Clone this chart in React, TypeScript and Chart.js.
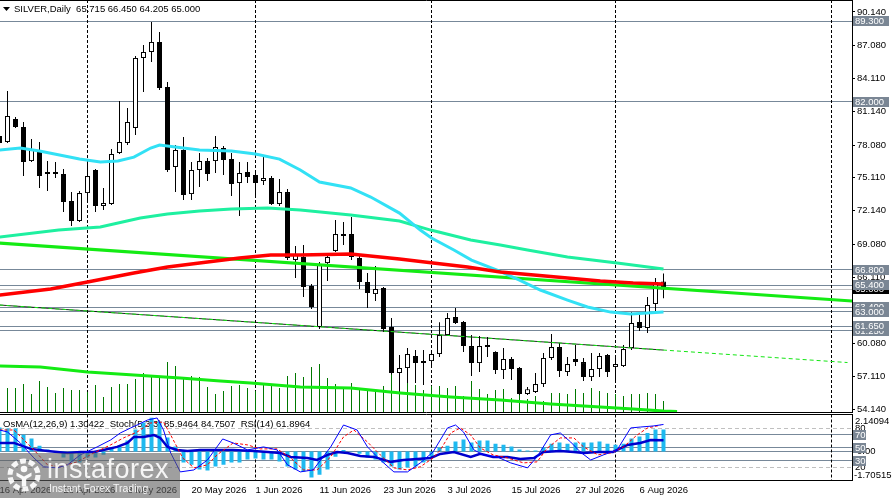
import React, { useEffect, useRef } from 'react';
import { Chart, registerables } from 'chart.js';

Chart.register(...registerables);

const FONT = "'Liberation Sans', Arial, Helvetica, sans-serif";

// ---------------- data ----------------
const symbolTitle = 'SILVER,Daily';
const lastOHLC = ['65.715', '66.450', '64.205', '65.000'];

const barOpen = [78.90, 78.36, 80.44, 79.72, 76.63, 77.45, 75.46, 75.64, 75.46, 73.01,
  71.20, 73.73, 75.82, 72.56, 72.74, 77.36, 78.27, 79.63, 85.97, 86.51,
  87.42, 83.34, 76.09, 77.63, 73.64, 75.82, 76.63, 76.63, 77.81, 76.82,
  74.64, 75.64, 75.37, 74.82, 75.09, 72.74, 73.82, 67.67, 67.94, 65.31,
  61.60, 67.39, 68.49, 70.02, 70.02, 67.85, 65.67, 64.58, 65.13, 61.60,
  57.43, 57.88, 58.97, 58.33, 58.51, 59.15, 60.87, 62.50, 62.05, 59.87,
  58.33, 59.96, 59.33, 57.70, 58.70, 57.88, 55.52, 55.71, 56.43, 58.79,
  59.78, 57.52, 58.70, 58.42, 57.06, 57.79, 59.06, 57.97, 58.06, 59.69,
  62.05, 61.51, 63.68, 65.715];
const barHigh = [79.44, 82.98, 80.62, 80.17, 78.63, 78.36, 76.63, 76.54, 75.91, 73.82,
  73.92, 76.54, 75.91, 74.19, 77.72, 82.07, 81.44, 86.15, 87.14, 89.23,
  88.32, 83.79, 78.09, 78.81, 76.54, 77.36, 76.90, 78.90, 77.99, 77.36,
  76.54, 76.54, 75.82, 76.99, 75.27, 75.00, 74.10, 68.93, 69.02, 65.49,
  67.49, 68.30, 71.29, 71.11, 71.56, 68.12, 66.49, 67.12, 65.22, 62.41,
  59.06, 59.69, 59.51, 59.51, 59.51, 62.04, 62.86, 63.32, 62.14, 60.87,
  60.78, 60.69, 59.40, 59.69, 58.88, 57.97, 56.16, 57.43, 59.24, 60.96,
  60.14, 58.88, 59.96, 58.79, 59.24, 59.24, 59.15, 58.79, 59.96, 62.95,
  62.86, 64.31, 66.03, 66.45];
const barLow = [77.99, 78.27, 79.63, 75.27, 76.55, 74.19, 73.92, 75.09, 72.01, 70.74,
  71.10, 72.92, 72.01, 72.20, 72.65, 77.27, 78.09, 79.00, 82.89, 85.60,
  83.07, 75.64, 73.82, 73.10, 73.10, 74.28, 74.82, 75.55, 75.37, 73.46,
  71.65, 74.64, 73.37, 74.46, 72.65, 72.56, 67.67, 66.03, 64.31, 63.23,
  61.42, 65.76, 68.40, 69.02, 67.67, 65.04, 63.32, 63.95, 61.14, 57.30,
  55.62, 56.52, 56.52, 56.34, 58.15, 58.88, 60.78, 61.87, 59.33, 57.16,
  57.52, 58.88, 57.34, 56.88, 56.79, 55.43, 55.43, 55.61, 56.16, 58.60,
  57.06, 57.16, 58.06, 56.70, 56.70, 57.06, 57.06, 56.79, 57.97, 59.51,
  61.23, 61.05, 62.86, 64.205];
const barClose = [78.27, 80.71, 79.72, 76.54, 77.63, 75.27, 75.64, 75.46, 72.92, 71.20,
  73.73, 75.27, 72.56, 72.83, 77.27, 78.36, 80.17, 85.97, 86.51, 87.42,
  83.25, 75.82, 77.63, 73.55, 75.82, 76.63, 75.46, 77.90, 76.72, 74.55,
  75.55, 75.18, 74.64, 75.09, 72.74, 73.82, 67.85, 68.12, 65.22, 63.41,
  67.21, 67.94, 70.02, 69.84, 67.94, 65.67, 64.67, 65.04, 61.41, 57.43,
  57.88, 59.15, 58.33, 58.51, 59.15, 60.87, 62.41, 61.96, 59.87, 58.33,
  59.87, 59.78, 57.70, 58.70, 57.79, 55.52, 55.97, 56.43, 58.79, 59.78,
  57.61, 58.24, 58.42, 57.06, 57.79, 58.97, 57.52, 58.24, 59.60, 61.96,
  61.51, 63.59, 65.67, 65.00];

const volumes = [22, 24, 24, 28, 18, 31, 25, 19, 24, 22,
  22, 20, 27, 15, 25, 28, 28, 33, 39, 35,
  35, 50, 46, 33, 36, 35, 25, 18, 21, 26,
  27, 24, 21, 29, 28, 24, 36, 39, 35, 45,
  48, 34, 28, 24, 29, 24, 23, 21, 26, 38,
  34, 30, 27, 22, 26, 26, 24, 26, 16, 31,
  23, 18, 22, 23, 14, 18, 13, 16, 11, 19,
  19, 18, 23, 19, 24, 21, 19, 18, 16, 18,
  18, 19, 18, 11];

// moving averages (bar position, value)
const maCyanX = [0, 2.6, 5, 10, 12.6, 14.8, 16.8, 18.9, 20, 25, 29, 32, 35, 37.6, 40, 43.9, 46.4, 50, 52.6, 54, 56.8, 59, 62.2, 65, 67.6, 71, 73.5, 76.4, 78.9, 83];
const maCyanV = [77.63, 77.81, 77.54, 76.81, 76.54, 76.63, 76.99, 77.81, 78.08, 77.63, 77.54, 77.27, 76.81, 75.82, 74.73, 74.19, 73.37, 71.92, 70.38, 69.66, 68.57, 67.66, 66.76, 65.85, 64.95, 64.04, 63.41, 62.95, 62.77, 62.95];
const maSeaX = [0, 7.4, 12.6, 17.6, 21, 25, 29, 33.5, 37.6, 43.9, 50, 53.9, 58.9, 62.6, 66, 71, 77.2, 83];
const maSeaV = [69.75, 70.38, 70.65, 71.47, 71.83, 72.10, 72.29, 72.38, 72.19, 71.74, 71.20, 70.38, 69.48, 69.02, 68.57, 67.94, 67.39, 66.85];
const maRedX = [0, 6.4, 11, 16.8, 21, 25, 30, 33.9, 37.6, 43.9, 50, 54.2, 58.5, 62.6, 66.8, 71, 75.1, 79.2, 83];
const maRedV = [64.49, 65.04, 65.67, 66.49, 67.03, 67.39, 67.85, 68.12, 68.12, 68.21, 67.76, 67.39, 67.03, 66.58, 66.31, 66.03, 65.76, 65.58, 65.49];
const maLimeX = [0, 5.1, 11, 16.8, 22.6, 27.6, 31.4, 37.6, 43.9, 50.1, 56.4, 62.6, 68.9, 75.1, 79.2, 83, 84.7];
const maLimeV = [58.06, 57.97, 57.52, 57.25, 56.97, 56.70, 56.52, 56.16, 56.07, 55.62, 55.25, 54.98, 54.62, 54.35, 54.17, 53.98, 53.95];

// trend lines
const trendUpperX = [0, 106.6];
const trendUpperV = [69.20, 63.95];
const trendLowerX = [0, 83];
const trendLowerV = [63.59, 59.51];
const trendLowerExtX = [0, 106];
const trendLowerExtV = [63.59, 58.38];

// horizontal levels
const levelLines = [89.3, 82.0, 66.8, 65.4, 63.4, 63.0, 61.25, 61.65];
const bidPrice = 65.0;
const priceTicks = [90.14, 87.08, 84.11, 81.14, 78.08, 75.11, 72.14, 69.08, 66.11, 63.14, 60.08, 57.11, 54.14];

// time axis
const separatorIdx = [11, 32, 54, 77, 104];
const dateLabelIdx = [0, 8, 16, 24, 32, 40, 48, 56, 64, 72, 80];
const dateLabels = ['16 Apr 2026', '28 Apr 2026', '8 May 2026', '20 May 2026', '1 Jun 2026', '11 Jun 2026', '23 Jun 2026', '3 Jul 2026', '15 Jul 2026', '27 Jul 2026', '6 Aug 2026'];

// indicators
const osma = [1.42, 1.36, 1.36, 1.0, 0.77, 0.35, 0.12, -0.05, -0.35, -0.59,
  -0.65, -0.35, -0.35, -0.18, 0.24, 0.30, 0.65, 1.3, 1.71, 2.0,
  1.77, 0.83, 0.30, -0.65, -0.77, -1.06, -1.12, -0.88, -0.77, -0.65,
  -0.65, -0.47, -0.41, -0.47, -0.47, -0.59, -0.88, -1.06, -1.18, -1.53,
  -1.36, -1.06, -0.3, 0.1, 0.02, -0.12, -0.35, -0.47, -0.65, -0.88,
  -1.06, -0.94, -0.88, -0.65, -0.3, 0.24, 0.35, 0.59, 0.71, 0.53,
  0.65, 0.65, 0.47, 0.41, 0.30, 0.12, 0.06, 0.06, 0.24, 0.47,
  0.53, 0.47, 0.53, 0.53, 0.53, 0.59, 0.47, 0.41, 0.47, 0.77,
  0.89, 1.1, 1.3, 1.30422];
const stochMainX = [0, 1, 2.6, 4.3, 5.5, 7.2, 8.5, 10.1, 12.2, 13.9, 15.1, 16.4, 17.2, 18.5, 19.7, 20.5, 21.4, 22.6, 24.3, 26, 27.9, 29.2, 31, 33, 34.7, 36, 37.6, 39.2, 41.4, 43, 44.7, 46, 47.6, 49.3, 51, 52.6, 54.2, 55.1, 56, 57, 58, 59.3, 60.5, 62.2, 63.9, 66, 67.2, 68.9, 70.1, 71.4, 72.6, 73.9, 75.5, 77.2, 78.9, 80.1, 81.7, 83];
const stochMainV = [77.5, 74.4, 57.6, 34.6, 21.0, 19.4, 24.0, 39.3, 51.5, 62.2, 72.9, 80.6, 85.1, 92.8, 95.9, 77.5, 42.3, 13.2, 16.2, 31.5, 63.7, 57.6, 46.9, 51.5, 46.9, 24.0, 13.2, 16.2, 51.5, 85.1, 77.5, 51.5, 31.5, 13.2, 13.2, 27.0, 43.8, 62.2, 80.6, 85.1, 74.4, 46.9, 39.3, 36.2, 27.0, 19.4, 36.2, 70.0, 72.9, 59.0, 43.8, 31.5, 39.3, 46.9, 80.6, 82.0, 83.6, 85.9464];
const stochSigX = [0, 1.8, 4.3, 6, 7.6, 9.7, 11.8, 13.9, 15.5, 17.2, 18.9, 20.5, 21.4, 22.9, 24.3, 26, 27.2, 29.2, 31, 32.6, 34.7, 36.4, 38, 39.7, 41.4, 43, 44.3, 46, 47.6, 49.3, 51, 52.6, 54.2, 55.1, 56.4, 57.6, 58.9, 60.1, 61.7, 63.5, 65.5, 67.2, 68.5, 70.1, 71.8, 73, 74.8, 76.4, 78, 79.7, 81, 82.6];
const stochSigV = [77.5, 77.5, 46.9, 24, 21, 28.6, 42.3, 54.6, 65.3, 74.4, 88.2, 89.7, 69.8, 34.6, 19.4, 24, 39.3, 57.6, 54.6, 48.5, 48.5, 34.6, 16.2, 16.2, 36.2, 66.8, 77.5, 59, 39.3, 19.4, 16.2, 21, 34.6, 46.9, 72.9, 80.6, 69.8, 49.9, 39.3, 34.6, 27, 28.6, 49.9, 65.3, 65.3, 51.5, 39.3, 42.3, 51.5, 69.8, 80.6, 84.7507];
const rsiX = [0, 1.8, 3.9, 6, 8.5, 10.1, 11.8, 13, 14.7, 16, 16.8, 18, 19.3, 20.1, 21, 22.2, 23.5, 25.1, 27.6, 29.2, 31.8, 33.5, 35.1, 36.4, 38.5, 39.7, 41, 42.2, 43.5, 45.1, 46.8, 48.9, 50.5, 52.2, 53.9, 55.1, 56.8, 58.9, 60.1, 61.7, 63.5, 65.1, 66.8, 68, 70.1, 71.8, 73, 74.8, 76.7, 78.5, 80.1, 81.4, 83];
const rsiV = [57.6, 57.6, 48.5, 45.4, 42.3, 43.8, 43.8, 46.9, 51.5, 57.6, 66.8, 66.8, 69.8, 65.3, 51.5, 46.9, 45.4, 46.9, 46.9, 46.9, 45.4, 43.8, 42.3, 36.2, 34.6, 31.5, 39.3, 43.8, 42.3, 37.7, 36.2, 28.6, 31.5, 33, 34.6, 40.8, 43.8, 36.2, 40.8, 36.2, 36.2, 33, 34.6, 43.8, 45.4, 43.8, 42.3, 43.8, 43.8, 54.6, 57.6, 62.2, 61.8964];
const stochLevels = [80, 70, 50, 30, 20];
const osmaLegend = 'OsMA(12,26,9) 1.30422  Stoch(5,3,3) 85.9464 84.7507  RSI(14) 61.8964';
const osmaTopLabel = '2.14094';
const osmaBottomLabel = '-1.70515';

// ---------------- layout constants ----------------
const X_MIN = 0.0625;
const X_MAX = X_MIN + 106.5;
const PRICE_MIN = 53.90;
const PRICE_MAX = 91.22;
const VOL_AXIS_MAX = 412;
const OSMA_MIN = -1.70515;
const OSMA_MAX = 2.14094;
const AXIS_W = 41;
const SLATE = 'rgb(119,136,153)';
const LABEL_BG = 'rgb(122,134,148)';

Chart.defaults.font.family = FONT;

function lineDs(xs: number[], vs: number[], color: string, width: number, axis: string, extra: any = {}) {
  return {
    type: 'line' as const,
    data: xs.map((x, k) => ({ x, y: vs[k] })),
    borderColor: color,
    backgroundColor: color,
    borderWidth: width,
    pointRadius: 0,
    pointHoverRadius: 0,
    tension: 0,
    fill: false,
    xAxisID: 'x',
    yAxisID: axis,
    ...extra,
  };
}

function hLine(ctx: CanvasRenderingContext2D, x0: number, x1: number, y: number) {
  const yy = Math.floor(y) + 0.5;
  ctx.beginPath();
  ctx.moveTo(x0, yy);
  ctx.lineTo(x1, yy);
  ctx.stroke();
}
function vLine(ctx: CanvasRenderingContext2D, x: number, y0: number, y1: number) {
  const xx = Math.floor(x) + 0.5;
  ctx.beginPath();
  ctx.moveTo(xx, y0);
  ctx.lineTo(xx, y1);
  ctx.stroke();
}
function priceBox(ctx: CanvasRenderingContext2D, x: number, yc: number, w: number, text: string, bg: string) {
  const top = Math.round(yc) - 5;
  ctx.fillStyle = bg;
  ctx.fillRect(x, top, w, 10);
  ctx.fillStyle = '#fff';
  ctx.textAlign = 'left';
  ctx.textBaseline = 'middle';
  ctx.fillText(text, x + 2, top + 5.5);
}

const mainPlugin = {
  id: 'mt4main',
  beforeDraw(chart: any) {
    const { ctx, width, height } = chart;
    ctx.save();
    ctx.fillStyle = '#fff';
    ctx.fillRect(0, 0, width, height);
    ctx.restore();
  },
  beforeDatasetsDraw(chart: any) {
    const { ctx, chartArea: a, scales } = chart;
    const ys = scales.y;
    const xs = scales.x;
    ctx.save();
    // title
    ctx.fillStyle = '#000';
    ctx.beginPath();
    ctx.moveTo(3, 7);
    ctx.lineTo(10, 7);
    ctx.lineTo(6.5, 11);
    ctx.closePath();
    ctx.fill();
    ctx.font = `9.5px ${FONT}`;
    ctx.textAlign = 'left';
    ctx.textBaseline = 'middle';
    ctx.fillText(symbolTitle + '  ' + lastOHLC.join(' '), 14, 9.5);
    // levels
    ctx.lineWidth = 1;
    ctx.strokeStyle = SLATE;
    levelLines.forEach((v) => hLine(ctx, a.left, a.right, ys.getPixelForValue(v)));
    ctx.strokeStyle = 'rgb(192,192,192)';
    hLine(ctx, a.left, a.right, ys.getPixelForValue(bidPrice));
    // period separators
    ctx.strokeStyle = '#000';
    ctx.setLineDash([3, 2]);
    separatorIdx.forEach((s) => vLine(ctx, xs.getPixelForValue(s), a.top, a.bottom));
    ctx.restore();
  },
  afterDraw(chart: any) {
    const { ctx, chartArea: a, scales } = chart;
    const ys = scales.y;
    ctx.save();
    ctx.strokeStyle = '#000';
    ctx.lineWidth = 1;
    hLine(ctx, 0, a.right + 1, 0);
    hLine(ctx, 0, a.right + 1, a.bottom);
    ctx.font = `9.5px ${FONT}`;
    const bx = a.right + 1;
    priceBox(ctx, bx, ys.getPixelForValue(bidPrice), 36, bidPrice.toFixed(3), '#000');
    levelLines.forEach((v) => priceBox(ctx, bx, ys.getPixelForValue(v), 36, v.toFixed(3), LABEL_BG));
    ctx.restore();
  },
};

const indPlugin = {
  id: 'mt4ind',
  beforeDraw(chart: any) {
    const { ctx, width, height } = chart;
    ctx.save();
    ctx.fillStyle = '#fff';
    ctx.fillRect(0, 0, width, height);
    ctx.restore();
  },
  beforeDatasetsDraw(chart: any) {
    const { ctx, chartArea: a, scales } = chart;
    const s = scales.ys;
    const o = scales.yo;
    const xs = scales.x;
    ctx.save();
    ctx.fillStyle = '#000';
    ctx.font = `9.5px ${FONT}`;
    ctx.textAlign = 'left';
    ctx.textBaseline = 'middle';
    ctx.fillText(osmaLegend, 3, 11);
    ctx.lineWidth = 1;
    stochLevels.forEach((lv) => {
      if (lv === 80 || lv === 20) {
        ctx.strokeStyle = 'rgb(192,192,192)';
        ctx.setLineDash([4, 3]);
      } else {
        ctx.strokeStyle = SLATE;
        ctx.setLineDash([]);
      }
      hLine(ctx, a.left, a.right, s.getPixelForValue(lv));
    });
    ctx.setLineDash([]);
    ctx.strokeStyle = SLATE;
    hLine(ctx, a.left, a.right, o.getPixelForValue(0));
    ctx.strokeStyle = '#000';
    ctx.setLineDash([3, 2]);
    separatorIdx.forEach((sx) => vLine(ctx, xs.getPixelForValue(sx), 1.5, a.bottom));
    ctx.restore();
  },
  afterDraw(chart: any) {
    const { ctx, chartArea: a, scales } = chart;
    const s = scales.ys;
    const o = scales.yo;
    ctx.save();
    ctx.strokeStyle = '#000';
    ctx.lineWidth = 1;
    hLine(ctx, 0, a.right + 1, 1);
    hLine(ctx, 0, a.right + 1, a.bottom);
    vLine(ctx, a.right, 1.5, a.bottom + 0.5);
    ctx.font = `9.5px ${FONT}`;
    ctx.fillStyle = '#000';
    ctx.textAlign = 'left';
    ctx.textBaseline = 'middle';
    const lx = a.right + 3;
    ctx.fillText('80', lx, s.getPixelForValue(80));
    ctx.fillText(osmaTopLabel, lx, a.top + 6.4);
    ctx.fillText((0).toFixed(2), lx + 2, o.getPixelForValue(0));
    ctx.fillText('20', lx, s.getPixelForValue(20));
    ctx.fillText(osmaBottomLabel, lx - 1, a.bottom - 5.5);
    [70, 50, 30].forEach((lv) => priceBox(ctx, a.right + 1, s.getPixelForValue(lv), 13, String(lv), LABEL_BG));
    ctx.restore();
  },
};

function MainChart() {
  const ref = useRef<HTMLCanvasElement>(null);
  useEffect(() => {
    const idx = barOpen.map((_, i) => i);
    const bodyColors = idx.map((i) => (barClose[i] >= barOpen[i] ? '#ffffff' : '#000000'));
    const chart = new Chart(ref.current as HTMLCanvasElement, {
      type: 'line',
      data: {
        datasets: [
          lineDs(trendLowerX, trendLowerV, 'rgba(0,0,0,0.85)', 1, 'y', { order: 6 }),
          lineDs(trendLowerExtX, trendLowerExtV, 'rgb(20,230,20)', 1, 'y', { order: 5, borderDash: [4, 3] }),
          lineDs(trendUpperX, trendUpperV, 'rgb(20,235,20)', 3, 'y', { order: 4 }),
          lineDs(maLimeX, maLimeV, 'rgb(20,235,20)', 3, 'y', { order: 4 }),
          lineDs(maSeaX, maSeaV, 'rgb(30,240,160)', 3, 'y', { order: 3 }),
          lineDs(maCyanX, maCyanV, 'rgb(50,225,245)', 3, 'y', { order: 2 }),
          lineDs(maRedX, maRedV, 'rgb(255,0,0)', 3.5, 'y', { order: 1 }),
          {
            type: 'bar' as const,
            data: idx.map((i) => ({ x: i, y: [barOpen[i], barClose[i]] })),
            backgroundColor: bodyColors,
            borderColor: '#000',
            borderWidth: 1,
            borderSkipped: false,
            barThickness: 5,
            minBarLength: 1,
            grouped: false,
            inflateAmount: 0,
            xAxisID: 'x',
            yAxisID: 'y',
            order: 10,
          } as any,
          {
            type: 'bar' as const,
            data: idx.map((i) => ({ x: i, y: [barLow[i], barHigh[i]] })),
            backgroundColor: '#000',
            borderWidth: 0,
            barThickness: 1,
            grouped: false,
            inflateAmount: 0,
            xAxisID: 'x',
            yAxisID: 'y',
            order: 11,
          } as any,
          {
            type: 'bar' as const,
            data: volumes.map((v, i) => ({ x: i, y: v })),
            backgroundColor: 'rgb(0,120,0)',
            borderWidth: 0,
            barThickness: 1,
            grouped: false,
            inflateAmount: 0,
            xAxisID: 'x',
            yAxisID: 'yv',
            order: 12,
          } as any,
        ],
      },
      options: {
        animation: false,
        responsive: false,
        maintainAspectRatio: false,
        events: [],
        layout: { padding: { left: 0, right: 0, top: 0, bottom: 1 } },
        plugins: { legend: { display: false }, tooltip: { enabled: false }, title: { display: false } },
        scales: {
          x: { type: 'linear', min: X_MIN, max: X_MAX, display: false, offset: false, grid: { offset: false } },
          y: {
            type: 'linear',
            position: 'right',
            min: PRICE_MIN,
            max: PRICE_MAX,
            beginAtZero: false,
            afterBuildTicks: (s: any) => { s.ticks = priceTicks.map((v) => ({ value: v })); },
            afterFit: (s: any) => { s.width = AXIS_W; s.paddingTop = 0; s.paddingBottom = 0; },
            ticks: {
              autoSkip: false,
              padding: 2,
              color: '#000',
              font: { family: FONT, size: 9.5 },
              callback: (v: any) => Number(v).toFixed(3),
            },
            grid: { drawOnChartArea: false, drawTicks: true, tickLength: 3, color: '#000' },
            border: { display: true, color: '#000' },
          },
          yv: { type: 'linear', display: false, min: 0, max: VOL_AXIS_MAX },
        },
      } as any,
      plugins: [mainPlugin],
    });
    return () => chart.destroy();
  }, []);
  return <canvas ref={ref} width={893} height={413} style={{ position: 'absolute', left: 0, top: 0, width: 893, height: 413, display: 'block' }} />;
}

function IndicatorChart() {
  const ref = useRef<HTMLCanvasElement>(null);
  useEffect(() => {
    const chart = new Chart(ref.current as HTMLCanvasElement, {
      type: 'line',
      data: {
        datasets: [
          {
            type: 'bar' as const,
            data: osma.map((v, i) => ({ x: i, y: v })),
            backgroundColor: 'rgb(30,185,240)',
            borderWidth: 0,
            barThickness: 4,
            grouped: false,
            inflateAmount: 0,
            xAxisID: 'x',
            yAxisID: 'yo',
            order: 5,
          } as any,
          lineDs(rsiX, rsiV, 'rgb(0,0,205)', 2.5, 'ys', { order: 3 }),
          lineDs(stochSigX, stochSigV, 'rgb(255,0,0)', 1, 'ys', { order: 2, borderDash: [3, 2] }),
          lineDs(stochMainX, stochMainV, 'rgb(0,0,255)', 1, 'ys', { order: 1 }),
        ],
      },
      options: {
        animation: false,
        responsive: false,
        maintainAspectRatio: false,
        events: [],
        layout: { padding: { left: 0, right: 0, top: 2.3, bottom: 0 } },
        plugins: { legend: { display: false }, tooltip: { enabled: false }, title: { display: false } },
        scales: {
          x: {
            type: 'linear',
            position: 'bottom',
            min: X_MIN,
            max: X_MAX,
            offset: false,
            afterBuildTicks: (s: any) => { s.ticks = dateLabelIdx.map((v) => ({ value: v })); },
            afterFit: (s: any) => { s.height = 17.5; s.paddingLeft = 0; s.paddingRight = 0; },
            ticks: {
              autoSkip: false,
              maxRotation: 0,
              minRotation: 0,
              align: 'start',
              padding: 4,
              color: '#000',
              font: { family: FONT, size: 9.5 },
              callback: (_v: any, i: number) => dateLabels[i],
            },
            grid: { drawOnChartArea: false, drawTicks: false, offset: false },
            border: { display: false },
          },
          yo: {
            type: 'linear',
            position: 'right',
            min: OSMA_MIN,
            max: OSMA_MAX,
            beginAtZero: false,
            ticks: { display: false },
            grid: { display: false, drawTicks: false },
            border: { display: false },
            afterFit: (s: any) => { s.width = AXIS_W; s.paddingTop = 0; s.paddingBottom = 0; },
          },
          ys: { type: 'linear', display: false, min: 0, max: 100 },
        },
      } as any,
      plugins: [indPlugin],
    });
    return () => chart.destroy();
  }, []);
  return <canvas ref={ref} width={893} height={85} style={{ position: 'absolute', left: 0, top: 413, width: 893, height: 85, display: 'block' }} />;
}

function Watermark() {
  return (
    <div style={{ position: 'absolute', left: 0, top: 453, width: 180, height: 45, background: 'rgba(95,95,95,0.6)', overflow: 'hidden', pointerEvents: 'none' }}>
      <svg style={{ position: 'absolute', left: 6, top: 4 }} width={36} height={36} viewBox="0 0 36 36">
        <circle cx={18} cy={18} r={14} fill="none" stroke="rgba(255,255,255,0.92)" strokeWidth={5} strokeDasharray="6 2.8" />
        <circle cx={18} cy={12} r={3.3} fill="rgba(255,255,255,0.95)" />
        <path d="M10.5 15.5 L18 19.5 L25.5 15.5 L25.5 19 L20.2 22 L20.2 29.5 L15.8 29.5 L15.8 22 L10.5 19 Z" fill="rgba(255,255,255,0.95)" />
      </svg>
      <div style={{ position: 'absolute', left: 47, top: 0, fontFamily: FONT, fontSize: 27, lineHeight: '32px', letterSpacing: 0.5, color: 'rgba(255,255,255,0.9)', whiteSpace: 'nowrap' }}>instaforex</div>
      <div style={{ position: 'absolute', left: 49, top: 29, fontFamily: FONT, fontSize: 10.5, lineHeight: '12px', color: 'rgba(255,255,255,0.9)', whiteSpace: 'nowrap' }}>Instant Forex Trading</div>
    </div>
  );
}

export default function App() {
  useEffect(() => {
    document.body.style.margin = '0';
    document.body.style.background = '#fff';
  }, []);
  return (
    <div style={{ position: 'relative', width: 893, height: 498, background: '#fff', overflow: 'hidden', fontFamily: FONT }}>
      <style>{'html,body{margin:0;padding:0;background:#fff;}'}</style>
      <MainChart />
      <IndicatorChart />
      <Watermark />
    </div>
  );
}
